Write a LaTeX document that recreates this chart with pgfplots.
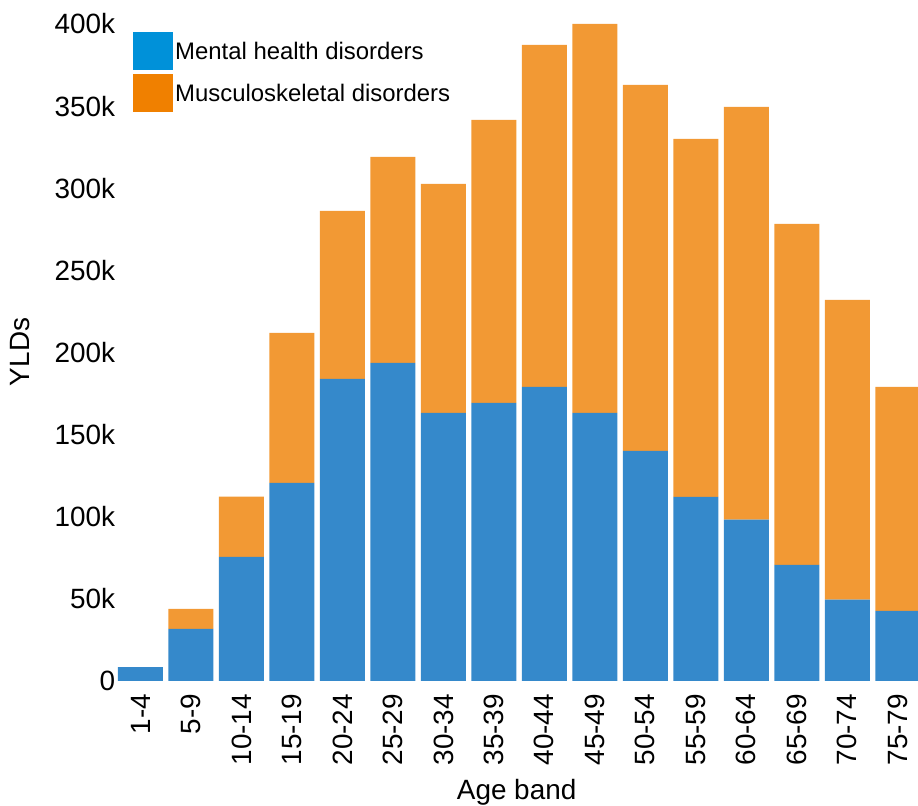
\documentclass[border=0pt]{standalone}
\usepackage{pgfplots}
\pgfplotsset{compat=1.18}
\usepackage{fontspec}
\setmainfont{Liberation Sans}
\definecolor{barblue}{HTML}{3589CB}
\definecolor{barorange}{HTML}{F29934}
\definecolor{legblue}{HTML}{0091D9}
\definecolor{legorange}{HTML}{F08000}
\begin{document}
\begin{tikzpicture}
\begin{axis}[name=ax, scale only axis, width=802.95bp, height=681bp,
  xmin=-0.5, xmax=15.4, ymin=0, ymax=414.6,
  ybar stacked, bar width=45bp,
  axis line style={draw=none}, tick style={draw=none}, major tick length=0pt,
  /pgf/number format/assume math mode=true,
  xtick={0,...,15},
  xticklabels={1-4,5-9,10-14,15-19,20-24,25-29,30-34,35-39,40-44,45-49,50-54,55-59,60-64,65-69,70-74,75-79},
  ytick={0,50,100,150,200,250,300,350,400},
  yticklabels={0,50k,100k,150k,200k,250k,300k,350k,400k},
  tick label style={font=\fontsize{28}{32}\selectfont},
  xticklabel style={font=\fontsize{28}{32}\selectfont, rotate=90, anchor=east, inner xsep=13bp},
  yticklabel style={inner xsep=0pt},
  ylabel={YLDs}, xlabel={Age band},
  label style={font=\fontsize{28}{32}\selectfont},
  ylabel style={at={(axis description cs:-0.1183,0.483)}, anchor=center, rotate=0},
  xlabel style={at={(axis description cs:0.5,-0.1747)}, anchor=base},
  legend style={at={(axis description cs:0,1)}, anchor=north west, draw=none, fill=none,
    xshift=17.75bp, yshift=-32bp, font=\fontsize{24}{28}\selectfont,
    inner sep=0pt, row sep=4bp},
  legend cell align=left,
]
\addplot[fill=barblue, draw=none,
  legend image code/.code={\fill[legblue] (0bp,-19bp) rectangle (40bp,19bp);}]
  coordinates {(0,8.3) (1,31.7) (2,75.5) (3,120.5) (4,183.9) (5,193.6) (6,163.2) (7,169.3)
   (8,179.0) (9,163.2) (10,140.0) (11,112.0) (12,98.2) (13,70.6) (14,49.5) (15,42.6)};
\addlegendentry{Mental health disorders}
\addplot[fill=barorange, draw=none,
  legend image code/.code={\fill[legorange] (0bp,-19bp) rectangle (40bp,19bp);}]
  coordinates {(0,0) (1,12.1) (2,36.7) (3,91.4) (4,102.3) (5,125.4) (6,139.4) (7,172.3)
   (8,208.2) (9,236.8) (10,222.9) (11,218.0) (12,251.3) (13,207.6) (14,182.5) (15,136.4)};
\addlegendentry{Musculoskeletal disorders}
\end{axis}
\pgfresetboundingbox
\path[use as bounding box] ([xshift=-115.25bp,yshift=-125bp]ax.south west) rectangle (ax.north east);
\end{tikzpicture}
\end{document}
